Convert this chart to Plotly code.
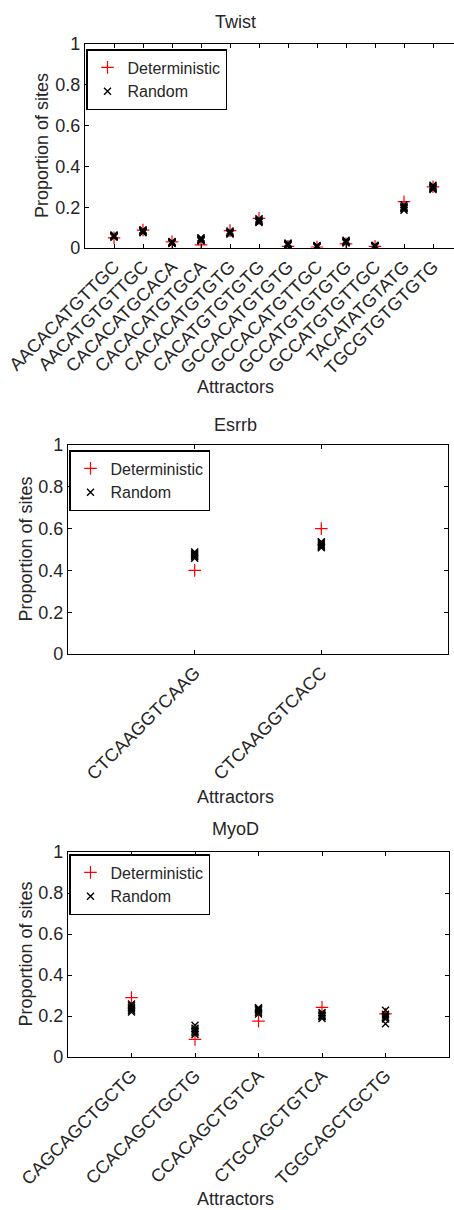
import plotly.graph_objects as go

# ---- data -------------------------------------------------------------
twist_cats = ["AACACATGTTGC", "AACATGTGTTGC", "CACACATGCACA", "CACACATGTGCA",
              "CACACATGTGTG", "CACATGTGTGTG", "GCCACATGTGTG", "GCCACATGTTGC",
              "GCCATGTGTGTG", "GCCATGTGTTGC", "TACATATGTATG", "TGCGTGTGTGTG"]
twist_det = [0.050, 0.088, 0.030, 0.015, 0.085, 0.145, 0.008, 0.005,
             0.020, 0.008, 0.227, 0.300]
twist_rand = [
    [0.053, 0.056, 0.059, 0.061, 0.064, 0.058],
    [0.075, 0.079, 0.083, 0.086, 0.090, 0.081],
    [0.022, 0.025, 0.027, 0.030, 0.032, 0.026],
    [0.034, 0.038, 0.042, 0.046, 0.050, 0.040],
    [0.068, 0.072, 0.075, 0.079, 0.083, 0.074],
    [0.125, 0.129, 0.134, 0.138, 0.144, 0.131],
    [0.012, 0.015, 0.018, 0.021, 0.024, 0.017],
    [0.004, 0.006, 0.008, 0.010, 0.012, 0.007],
    [0.025, 0.028, 0.031, 0.034, 0.038, 0.030],
    [0.005, 0.008, 0.010, 0.012, 0.014, 0.009],
    [0.185, 0.192, 0.198, 0.204, 0.212, 0.196],
    [0.287, 0.292, 0.297, 0.302, 0.308, 0.294],
]

esrrb_cats = ["CTCAAGGTCAAG", "CTCAAGGTCACC"]
esrrb_det = [0.40, 0.60]
esrrb_rand = [
    [0.458, 0.465, 0.470, 0.476, 0.482, 0.488],
    [0.508, 0.515, 0.520, 0.526, 0.532, 0.537],
]

myod_cats = ["CAGCAGCTGCTG", "CCACAGCTGCTG", "CCACAGCTGTCA",
             "CTGCAGCTGTCA", "TGGCAGCTGCTG"]
myod_det = [0.290, 0.086, 0.175, 0.242, 0.210]
myod_rand = [
    [0.220, 0.228, 0.235, 0.242, 0.250, 0.258],
    [0.110, 0.118, 0.125, 0.132, 0.140, 0.155],
    [0.210, 0.218, 0.225, 0.232, 0.240, 0.236],
    [0.188, 0.196, 0.203, 0.210, 0.217, 0.200],
    [0.162, 0.185, 0.192, 0.200, 0.208, 0.228],
]

y_ticks = [0, 0.2, 0.4, 0.6, 0.8, 1]
y_ticktext = ["0", "0.2", "0.4", "0.6", "0.8", "1"]

# ---- geometry (pixels) -------------------------------------------------
W, H = 454, 1210
FONT = "Liberation Sans, Arial, Helvetica, sans-serif"
TXT = "#262626"

# The Twist frame runs on past the right edge of the canvas: its x range is
# cut where the canvas ends, so no right-hand border is drawn for it.
panels = [
    dict(name="Twist", cats=twist_cats, det=twist_det, rand=twist_rand,
         l=85, r=454, t=44, b=248, xmax=(454 - 85) / 29.0, ymirror=False,
         title_y=22.5, xlab_y=387, ylab_x=42, leg_x=86, leg_y=49),
    dict(name="Esrrb", cats=esrrb_cats, det=esrrb_det, rand=esrrb_rand,
         l=68, r=448, t=445, b=654, xmax=3, ymirror="ticks",
         title_y=425, xlab_y=797, ylab_x=25, leg_x=69, leg_y=450),
    dict(name="MyoD", cats=myod_cats, det=myod_det, rand=myod_rand,
         l=68, r=449, t=852, b=1057, xmax=6, ymirror="ticks",
         title_y=829, xlab_y=1199, ylab_x=25, leg_x=69, leg_y=854),
]

fig = go.Figure()
layout = dict(
    width=W, height=H, margin=dict(l=0, r=0, t=0, b=0, autoexpand=False),
    paper_bgcolor="white", plot_bgcolor="white",
    font=dict(family=FONT, size=18, color=TXT),
    annotations=[],
)

for i, p in enumerate(panels, start=1):
    sfx = "" if i == 1 else str(i)
    xa, ya = "x" + sfx, "y" + sfx
    leg = "legend" + sfx
    n = len(p["cats"])
    xs = list(range(1, n + 1))

    rx, ry = [], []
    for k, vals in enumerate(p["rand"]):
        rx += [xs[k]] * len(vals)
        ry += vals

    fig.add_trace(go.Scatter(
        x=xs, y=p["det"], mode="markers", name="Deterministic",
        xaxis=xa, yaxis=ya, legend=leg,
        marker=dict(symbol="cross-thin", size=9,
                    line=dict(color="#ff0000", width=1.2)),
    ))
    fig.add_trace(go.Scatter(
        x=rx, y=ry, mode="markers", name="Random",
        xaxis=xa, yaxis=ya, legend=leg,
        marker=dict(symbol="x-thin", size=7,
                    line=dict(color="#000000", width=1.4)),
    ))

    xdom = [p["l"] / W, min(p["r"] / W, 1.0)]
    ydom = [1 - p["b"] / H, 1 - p["t"] / H]

    layout["xaxis" + sfx] = dict(
        domain=xdom, anchor=ya, range=[0, p["xmax"]], automargin=False,
        tickmode="array", tickvals=xs, ticktext=p["cats"], tickangle=-45,
        ticks="inside", ticklen=4, tickcolor="black", tickwidth=1,
        showline=True, linecolor="black", linewidth=1.3, mirror="ticks",
        showgrid=False, zeroline=False,
        tickfont=dict(family=FONT, size=18, color=TXT),
    )
    layout["yaxis" + sfx] = dict(
        domain=ydom, anchor=xa, range=[0, 1], automargin=False,
        tickmode="array", tickvals=y_ticks, ticktext=y_ticktext,
        ticks="inside", ticklen=4, tickcolor="black", tickwidth=1,
        showline=True, linecolor="black", linewidth=1.3, mirror=p["ymirror"],
        showgrid=False, zeroline=False,
        tickfont=dict(family=FONT, size=18, color=TXT),
    )
    layout[leg] = dict(
        x=p["leg_x"] / W, y=1 - p["leg_y"] / H, xref="paper", yref="paper",
        xanchor="left", yanchor="top",
        bgcolor="white", bordercolor="black", borderwidth=1.5,
        font=dict(family=FONT, size=16, color=TXT),
        itemwidth=30, tracegroupgap=0,
    )

    # panel title, x label, y label
    layout["annotations"] += [
        dict(text=p["name"], x=235 / W, y=1 - p["title_y"] / H,
             xref="paper", yref="paper", showarrow=False,
             xanchor="center", yanchor="middle", font=dict(size=18)),
        dict(text="Attractors", x=235 / W, y=1 - p["xlab_y"] / H,
             xref="paper", yref="paper", showarrow=False,
             xanchor="center", yanchor="middle", font=dict(size=18)),
        dict(text="Proportion of sites", x=p["ylab_x"] / W,
             y=1 - (p["t"] + p["b"]) / 2 / H,
             xref="paper", yref="paper", showarrow=False, textangle=-90,
             xanchor="center", yanchor="middle", font=dict(size=18)),
    ]

fig.update_layout(**layout)
fig.write_html("out.html")
